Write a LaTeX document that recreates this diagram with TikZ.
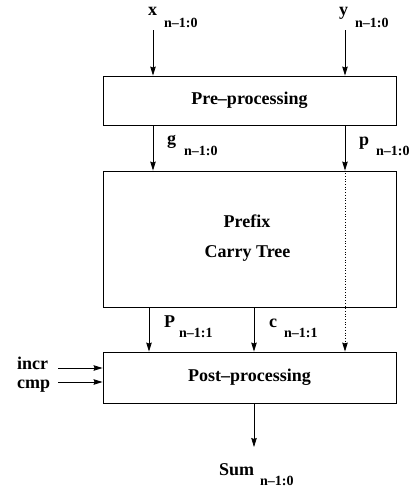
\documentclass[tikz,border=0pt]{standalone}
\usepackage{fontspec}
\setmainfont{Liberation Serif}
\usetikzlibrary{arrows.meta}
\begin{document}
\begin{tikzpicture}[x=1pt,y=-1pt,
  blk/.style={draw, line width=0.9pt, minimum width=293pt, inner sep=0pt,
              font=\fontsize{18}{20}\selectfont\bfseries},
  sig/.style={-{Stealth[length=9pt,width=5.5pt,inset=1pt]}, line width=0.7pt},
  lbl/.style={anchor=base west, inner sep=0pt, font=\fontsize{18}{20}\selectfont\bfseries},
  sub/.style={anchor=base west, inner sep=0pt, font=\fontsize{14}{16}\selectfont\bfseries},
  txt/.style={anchor=base, inner sep=0pt, font=\fontsize{18}{20}\selectfont\bfseries},
]
\useasboundingbox (0,0) rectangle (414,491);

% blocks
\node[blk, minimum height=49pt]  (pre)  at (249.5,100.5) {Pre--processing};
\node[blk, minimum height=136pt] (pfx)  at (249.5,239)   {};
\node[blk, minimum height=51pt]  (post) at (249.5,377.5) {Post--processing};
\node[txt] (pfxa) at (247,227) {Prefix};
\node[txt] (pfxb) at (247.5,257) {Carry Tree};

% signal columns
\coordinate (xin) at (153,30);
\coordinate (yin) at (345,30);
\coordinate (pcol) at (149,0);
\coordinate (ccol) at (254,0);
\coordinate (sumend) at (254,447);
\coordinate (incrs) at (58,368);
\coordinate (cmps) at (58,382);

% connectors
\draw[sig] (xin) -- (xin |- pre.north);
\draw[sig] (yin) -- (yin |- pre.north);
\draw[sig] (pre.south -| xin) -- (pfx.north -| xin);
\draw[sig] (pre.south -| yin) -- (pfx.north -| yin);
\draw[sig, dotted] (pfx.north -| yin) -- (post.north -| yin);
\draw[sig] (pfx.south -| pcol) -- (post.north -| pcol);
\draw[sig] (pfx.south -| ccol) -- (post.north -| ccol);
\draw[sig] (post.south -| ccol) -- (sumend);
\draw[sig] (incrs) -- (incrs -| post.west);
\draw[sig] (cmps) -- (cmps -| post.west);

% labels
\node[lbl] (xl) at (148,15) {x};
\node[sub] (xs) at (164,27) {n--1:0};
\node[lbl] (yl) at (339,15) {y};
\node[sub] (ys) at (355,27) {n--1:0};
\node[lbl] (gl) at (167,144) {g};
\node[sub] (gs) at (184,155) {n--1:0};
\node[lbl] (pl) at (359,145) {p};
\node[sub] (ps) at (376,155) {n--1:0};
\node[lbl] (Pl) at (164,327) {P};
\node[sub] (Ps) at (179,337) {n--1:1};
\node[lbl] (cl) at (269,327) {c};
\node[sub] (cs) at (284,337) {n--1:1};
\node[lbl] (suml) at (219,475) {Sum};
\node[sub] (sums) at (260,485) {n--1:0};
\node[lbl] (incrl) at (17,369) {incr};
\node[lbl] (cmpl) at (17,388) {cmp};
\end{tikzpicture}
\end{document}
